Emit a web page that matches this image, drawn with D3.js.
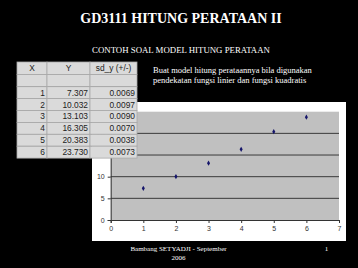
<!DOCTYPE html>
<html>
<head>
<meta charset="utf-8">
<script src="https://cdn.jsdelivr.net/npm/d3@7"></script>
<style>
  html, body { margin: 0; padding: 0; background: #000; }
  svg { display: block; }
</style>
</head>
<body>
<div id="slide"></div>
<script>
const width = 358;
const height = 268;

// data from the slide
const xValues = [1, 2, 3, 4, 5, 6];
const yValues = [7.307, 10.032, 13.103, 16.305, 20.383, 23.730];
const sdValues = ["0.0069", "0.0097", "0.0090", "0.0070", "0.0038", "0.0073"];
const yLabels = ["7.307", "10.032", "13.103", "16.305", "20.383", "23.730"];
const tableHeaders = ["X", "Y", "sd_y (+/-)"];
const xTicks = [0, 1, 2, 3, 4, 5, 6, 7];
const yTicks = [0, 5, 10, 15, 20, 25];

const svg = d3.select("#slide")
    .append("svg")
    .attr("width", width)
    .attr("height", height);

svg.append("rect")
    .attr("width", width)
    .attr("height", height)
    .attr("fill", "#000");

// Titles
svg.append("text")
    .attr("x", 181)
    .attr("y", 23)
    .attr("text-anchor", "middle")
    .attr("fill", "#fff")
    .style("font", "bold 14px 'Liberation Serif', serif")
    .text("GD3111 HITUNG PERATAAN II");

svg.append("text")
    .attr("x", 181)
    .attr("y", 52.5)
    .attr("text-anchor", "middle")
    .attr("fill", "#fff")
    .style("font", "8.8px 'Liberation Serif', serif")
    .text("CONTOH SOAL MODEL HITUNG PERATAAN");

const note = svg.append("text")
    .attr("fill", "#fff")
    .style("font", "8.5px 'Liberation Serif', serif");
note.append("tspan").attr("x", 153).attr("y", 72.5)
    .text("Buat model hitung perataannya bila digunakan");
note.append("tspan").attr("x", 153).attr("y", 82.5)
    .text("pendekatan fungsi linier dan fungsi kuadratis");

// Chart box
svg.append("rect")
    .attr("x", 92)
    .attr("y", 102)
    .attr("width", 254)
    .attr("height", 139)
    .attr("fill", "#fff");

const x = d3.scaleLinear().domain([0, 7]).range([110.7, 339]);
const y = d3.scaleLinear().domain([0, 25]).range([220, 111.7]);

svg.append("rect")
    .attr("x", x(0))
    .attr("y", y(25))
    .attr("width", x(7) - x(0))
    .attr("height", y(0) - y(25))
    .attr("fill", "#c0c0c0");

// gridlines
svg.append("g")
    .selectAll("line")
    .data(yTicks.filter(d => d > 0 && d < 25))
    .enter()
    .append("line")
    .attr("x1", x(0))
    .attr("x2", x(7))
    .attr("y1", d => y(d))
    .attr("y2", d => y(d))
    .attr("stroke", "#2a2a2a")
    .attr("stroke-width", 0.9);

const xAxis = svg.append("g")
    .attr("transform", `translate(0,${y(0)})`)
    .call(d3.axisBottom(x).tickValues(xTicks).tickSize(3).tickPadding(3).tickFormat(d3.format("d")));

const yAxis = svg.append("g")
    .attr("transform", `translate(${x(0)},0)`)
    .call(d3.axisLeft(y).tickValues(yTicks).tickSize(3).tickPadding(3).tickFormat(d3.format("d")));

[xAxis, yAxis].forEach(a => {
    a.select(".domain").attr("stroke", "#333").attr("stroke-width", 1);
    a.selectAll(".tick line").attr("stroke", "#333");
    a.selectAll(".tick text")
        .attr("fill", "#333")
        .style("font", "7px 'Liberation Sans', Arial, sans-serif");
});

// points
svg.append("g")
    .selectAll("path")
    .data(xValues.map((d, i) => [d, yValues[i]]))
    .enter()
    .append("path")
    .attr("transform", d => `translate(${x(d[0])},${y(d[1])})`)
    .attr("d", d3.symbol().type(d3.symbolDiamond).size(8))
    .attr("fill", "#15156a");

// Table
const colEdges = [17, 47, 90, 137];
const rowTop = 62;
const headerH = 12.4;
const blankH = 12.3;
const rowH = 11.9;

const table = svg.append("g");
const rows = [tableHeaders, ["", "", ""]]
    .concat(xValues.map((d, i) => [String(d), yLabels[i], sdValues[i]]));

rows.forEach((row, r) => {
    const top = r === 0 ? rowTop : r === 1 ? rowTop + headerH : rowTop + headerH + blankH + (r - 2) * rowH;
    const h = r === 0 ? headerH : r === 1 ? blankH : rowH;
    row.forEach((cell, c) => {
        table.append("rect")
            .attr("x", colEdges[c])
            .attr("y", top)
            .attr("width", colEdges[c + 1] - colEdges[c])
            .attr("height", h)
            .attr("fill", "#dadada")
            .attr("stroke", "#a8a8a8")
            .attr("stroke-width", 0.8);
        if (cell) {
            const header = r === 0;
            table.append("text")
                .attr("x", header ? (colEdges[c] + colEdges[c + 1]) / 2 : colEdges[c + 1] - 2)
                .attr("y", top + h - 3)
                .attr("text-anchor", header ? "middle" : "end")
                .attr("fill", "#222")
                .style("font", "8.4px 'Liberation Sans', Arial, sans-serif")
                .text(cell);
        }
    });
});

// Footer
svg.append("text")
    .attr("x", 178.5)
    .attr("y", 251)
    .attr("text-anchor", "middle")
    .attr("fill", "#fff")
    .style("font", "7px 'Liberation Serif', serif")
    .text("Bambang SETYADJI - September");
svg.append("text")
    .attr("x", 178.5)
    .attr("y", 259.5)
    .attr("text-anchor", "middle")
    .attr("fill", "#fff")
    .style("font", "7px 'Liberation Serif', serif")
    .text("2006");
svg.append("text")
    .attr("x", 326.5)
    .attr("y", 251)
    .attr("text-anchor", "middle")
    .attr("fill", "#fff")
    .style("font", "7px 'Liberation Serif', serif")
    .text("1");
</script>
</body>
</html>
